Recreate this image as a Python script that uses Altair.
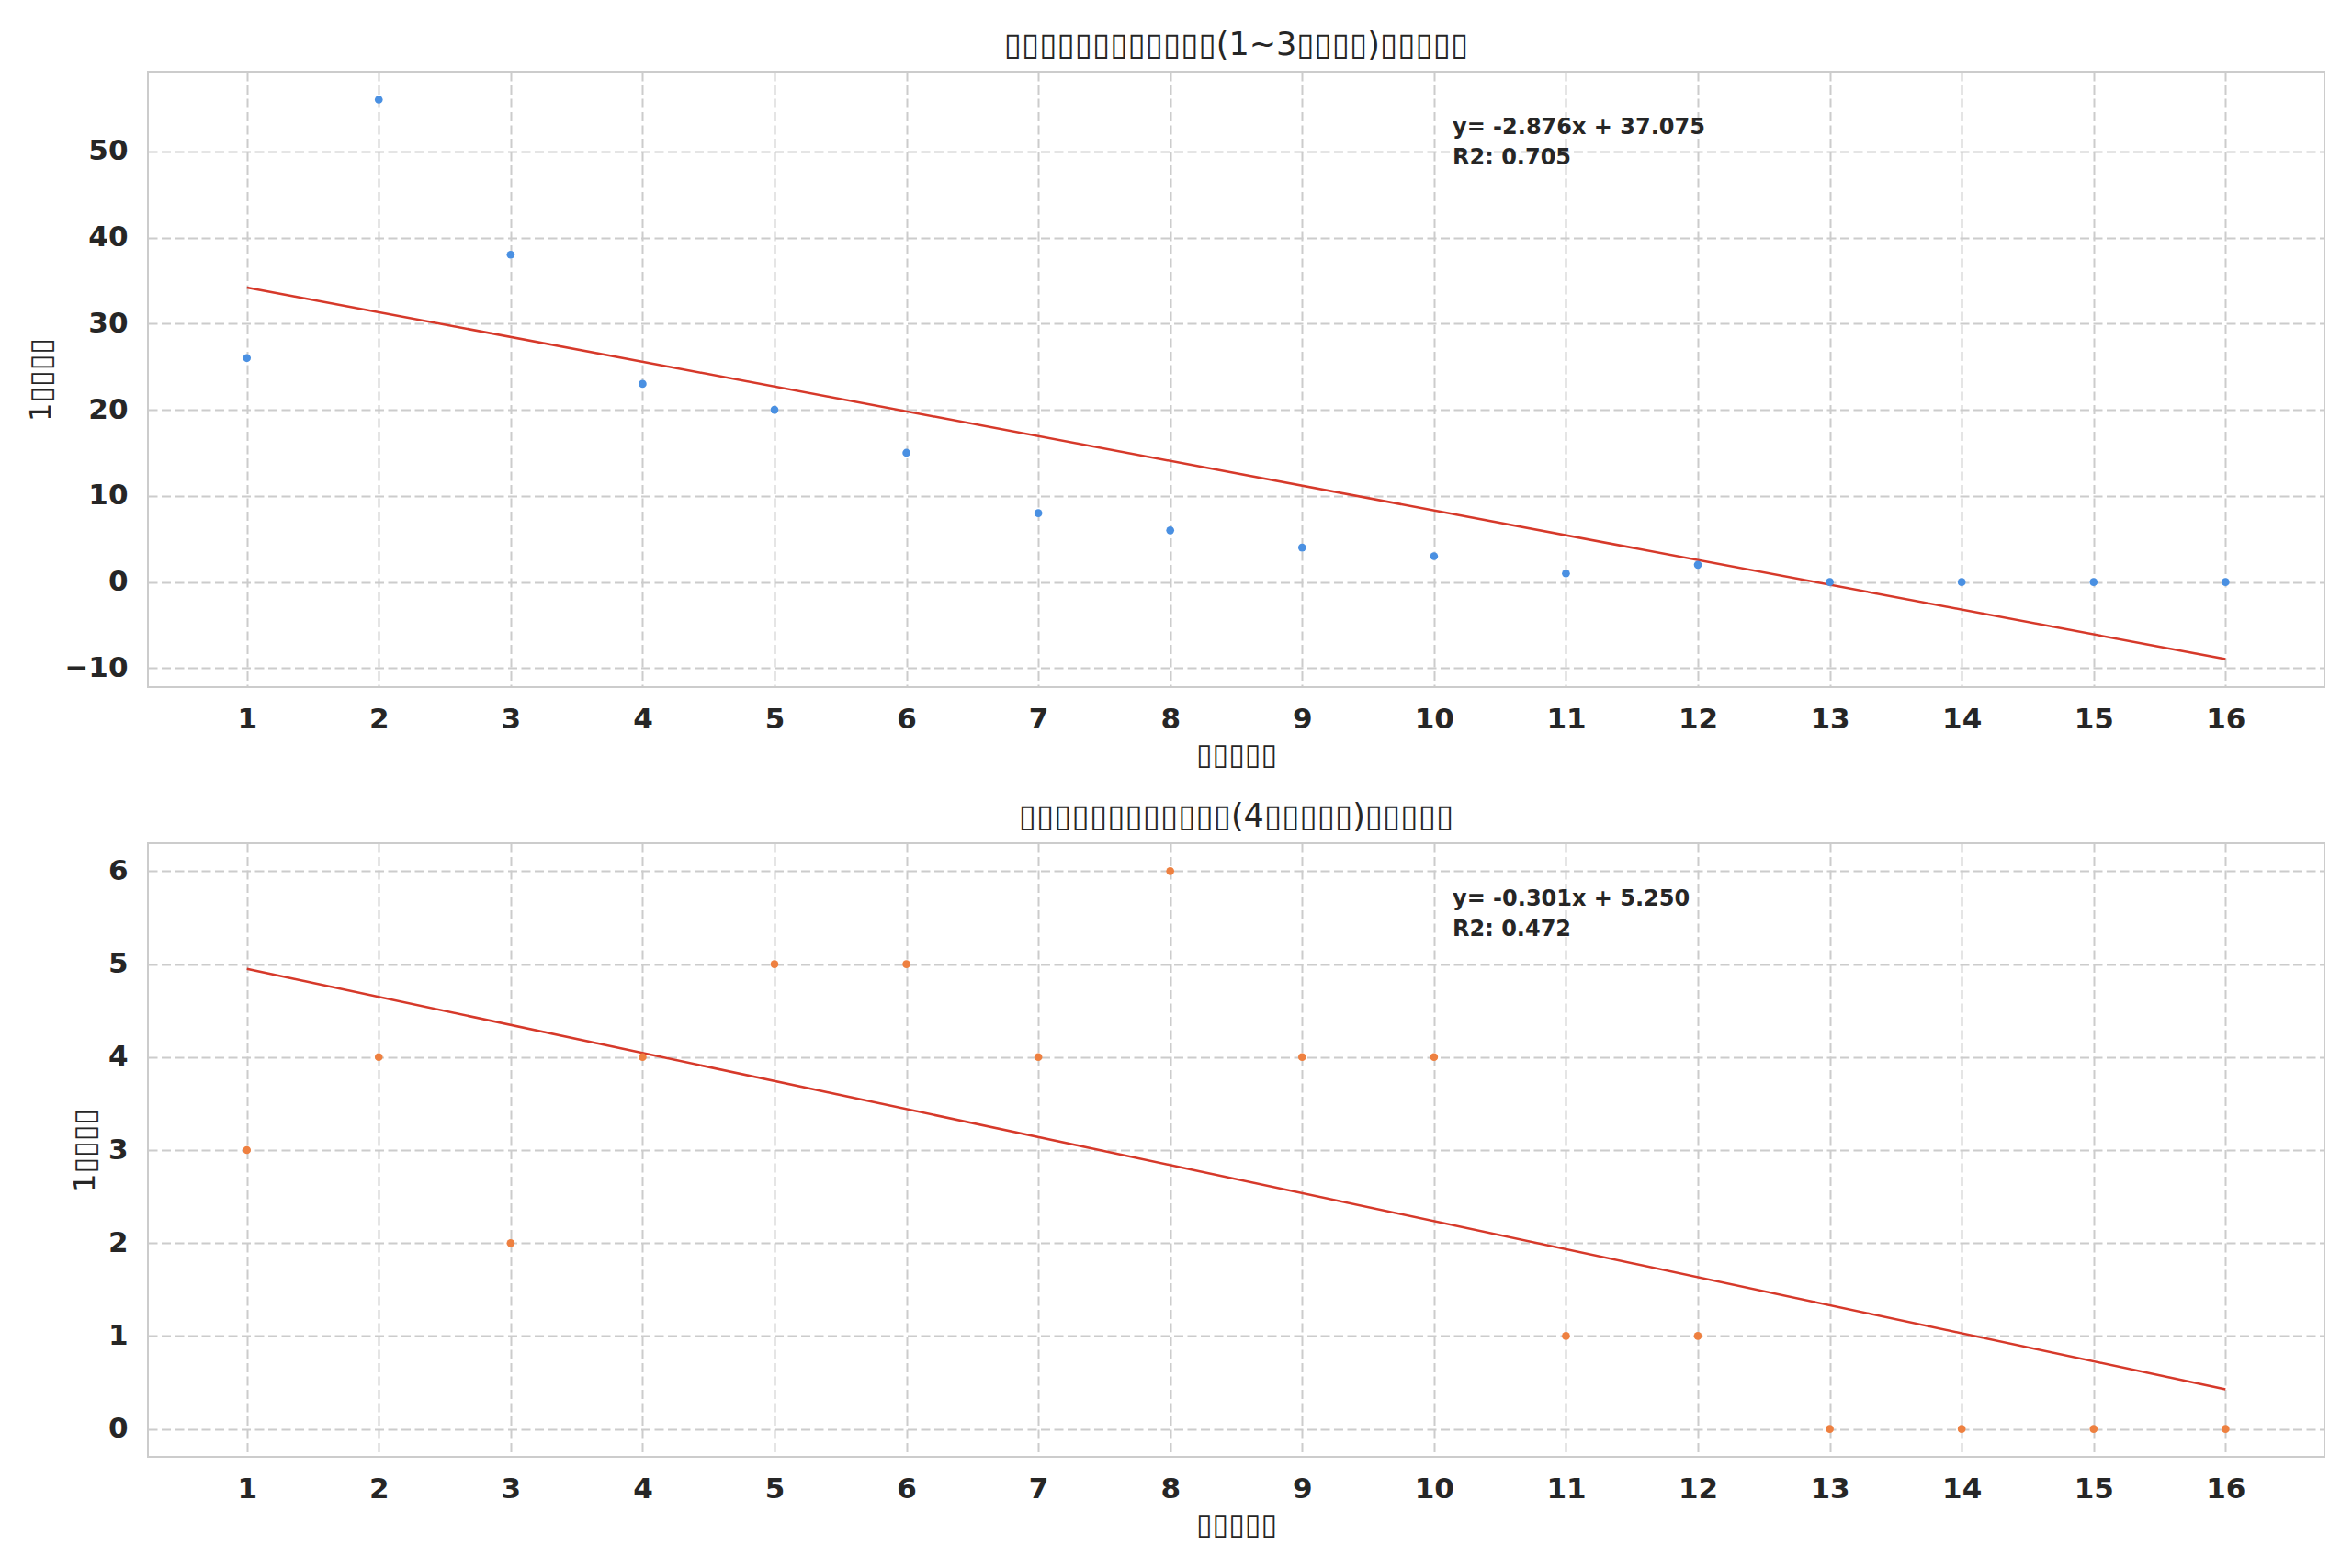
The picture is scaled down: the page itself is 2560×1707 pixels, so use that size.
import altair as alt
import pandas as pd
import numpy as np

months = list(range(1, 17))
early_counts = [26, 56, 38, 23, 20, 15, 8, 6, 4, 3, 1, 2, 0, 0, 0, 0]
late_counts = [3, 4, 2, 4, 5, 5, 4, 6, 4, 4, 1, 1, 0, 0, 0, 0]

titles = [
    "▯▯▯▯▯▯▯▯▯▯▯▯(1~3▯▯▯▯)▯▯▯▯▯",
    "▯▯▯▯▯▯▯▯▯▯▯▯(4▯▯▯▯▯)▯▯▯▯▯",
]
x_title = "▯▯▯▯▯"
y_title = "1▯▯▯▯"
annotations = [
    "y= -2.876x + 37.075\nR2: 0.705",
    "y= -0.301x + 5.250\nR2: 0.472",
]
point_colors = ["#4A90E2", "#EE8040"]
line_color = "#D6392A"
y_ticks = [list(range(-10, 51, 10)), list(range(0, 7))]

TEXT = "#262626"
FONT = "DejaVu Sans"
W = 2369
HEIGHTS = [670, 668]


def padded_domain(xs, ys):
    m, b = np.polyfit(xs, ys, 1)
    fit = [m * xs[0] + b, m * xs[-1] + b]
    lo = min(min(ys), *fit)
    hi = max(max(ys), *fit)
    pad = (hi - lo) * 0.05
    return [lo - pad, hi + pad]


def panel(ys, idx):
    df = pd.DataFrame({"x": months, "y": ys})
    xpad = (months[-1] - months[0]) * 0.05
    xs = alt.Scale(domain=[months[0] - xpad, months[-1] + xpad], nice=False, zero=False)
    ysc = alt.Scale(domain=padded_domain(months, ys), nice=False, zero=False)
    base = alt.Chart(df)
    pts = base.mark_point(filled=True, opacity=1, size=75, color=point_colors[idx]).encode(
        x=alt.X("x:Q", scale=xs,
                axis=alt.Axis(values=months, format="d", title=x_title, labelAngle=0,
                              labelPadding=20, titlePadding=8)),
        y=alt.Y("y:Q", scale=ysc,
                axis=alt.Axis(values=y_ticks[idx], format="d", title=y_title,
                              labelPadding=22, titlePadding=8)),
    )
    line = base.transform_regression("x", "y").mark_line(
        color=line_color, strokeWidth=2.5
    ).encode(x=alt.X("x:Q", scale=xs), y=alt.Y("y:Q", scale=ysc))
    ann = alt.Chart(pd.DataFrame({"t": [annotations[idx]]})).mark_text(
        align="left", baseline="alphabetic", fontSize=24, fontWeight="bold",
        font=FONT, color=TEXT, lineBreak="\n", lineHeight=33,
    ).encode(text="t:N", x=alt.value(1420), y=alt.value(68))
    return alt.layer(line, pts, ann).properties(
        width=W, height=HEIGHTS[idx],
        title=alt.TitleParams(titles[idx], fontSize=35, font=FONT, fontWeight="normal",
                              color=TEXT, offset=11, anchor="middle"),
    )


chart = alt.vconcat(panel(early_counts, 0), panel(late_counts, 1), spacing=33).properties(
    padding={"left": 19, "top": 23, "right": 5, "bottom": 5},
    background="white",
).configure_view(
    stroke="#cccccc", strokeWidth=2
).configure_axis(
    grid=True, gridColor="#cccccc", gridDash=[10, 4.5], gridWidth=2,
    domain=False, ticks=False,
    labelFont=FONT, labelFontSize=31, labelFontWeight="bold", labelColor=TEXT,
    titleFont=FONT, titleFontSize=32, titleFontWeight="normal", titleColor=TEXT,
)

chart.save("out.html", embed_options={"renderer": "svg", "actions": False})
